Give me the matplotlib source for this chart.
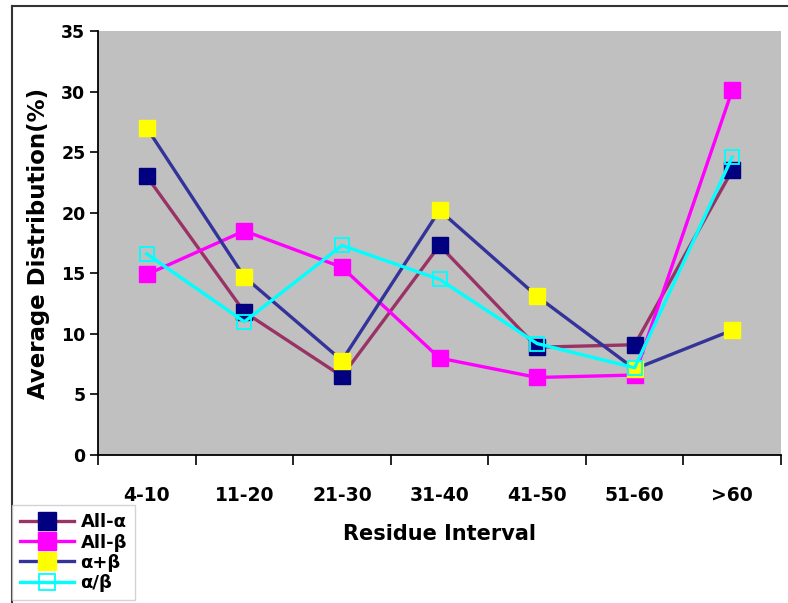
import numpy as np
import matplotlib
matplotlib.use('Agg')
import matplotlib.pyplot as plt
from matplotlib.lines import Line2D

categories = ['4-10', '11-20', '21-30', '31-40', '41-50', '51-60', '>60']
all_alpha = [23.0, 11.8, 6.5, 17.3, 8.9, 9.1, 23.5]
all_beta = [14.9, 18.5, 15.5, 8.0, 6.4, 6.6, 30.1]
alpha_plus_beta = [27.0, 14.7, 7.8, 20.2, 13.1, 7.1, 10.3]
alpha_over_beta = [16.6, 11.0, 17.3, 14.5, 9.2, 7.2, 24.6]
series_names = ['All-\u03b1', 'All-\u03b2', '\u03b1+\u03b2', '\u03b1/\u03b2']

plt.rcParams['font.family'] = ['DejaVu Sans']
plt.rcParams['font.weight'] = 'bold'

fig = plt.figure(figsize=(7.88, 6.03), dpi=100)
ax = fig.add_axes([98/788, 148/603, 683/788, 424/603])
ax.set_facecolor('#c0c0c0')

x = np.arange(len(categories))
styles = [
    dict(color='#993366', mfc='#000080', mec='#000080', ms=11.5),
    dict(color='#ff00ff', mfc='#ff00ff', mec='#ff00ff', ms=11.5),
    dict(color='#333399', mfc='#ffff00', mec='#ffff00', ms=11.5),
    dict(color='#00ffff', mfc='none', mec='#00ffff', ms=10.5, mew=1.3),
]
handles = []
for vals, st in zip([all_alpha, all_beta, alpha_plus_beta, alpha_over_beta], styles):
    h, = ax.plot(x, vals, marker='s', lw=2.4, **st)
    handles.append(h)

ax.set_xlim(-0.5, len(categories) - 0.5)
ax.set_ylim(0, 35)
ax.set_yticks(range(0, 36, 5))
ax.set_xticks(x)
ax.set_xticklabels(categories, fontsize=13.5, fontweight='bold')
ax.set_xticks(np.arange(-0.5, len(categories)), minor=True)
ax.tick_params(axis='x', which='major', length=0, pad=22)
ax.tick_params(axis='x', which='minor', length=7, width=1.2, direction='out')
ax.tick_params(axis='y', length=6, width=1.2, direction='out', labelsize=12.5, pad=3)
for lab in ax.get_yticklabels():
    lab.set_fontweight('bold')

ax.spines['top'].set_visible(False)
ax.spines['right'].set_visible(False)
ax.spines['left'].set_linewidth(1.3)
ax.spines['bottom'].set_linewidth(1.3)

ax.set_ylabel('Average Distribution(%)', fontsize=16.5, fontweight='bold')
ax.yaxis.set_label_coords(-48/683, 0.5)
ax.set_xlabel('Residue Interval', fontsize=15, fontweight='bold')
ax.xaxis.set_label_coords(0.5, -69/424)

# outer frame lines (top and left only)
fig.add_artist(Line2D([12/788, 1], [1 - 6/603, 1 - 6/603], color='#333333', lw=1.5))
fig.add_artist(Line2D([12/788, 12/788], [0, 1 - 6/603], color='#333333', lw=1.5))

leg = fig.legend(handles, series_names, loc='lower left', bbox_to_anchor=(12/788, 3/603),
                 frameon=True, fancybox=False, edgecolor='#c8c8c8',
                 prop={'weight': 'bold', 'size': 13}, handlelength=3.0, handletextpad=0.35,
                 labelspacing=0.12, borderpad=0.45, borderaxespad=0, markerscale=1.1)
leg.get_frame().set_linewidth(1.0)

fig.savefig('out.png', dpi=100)
